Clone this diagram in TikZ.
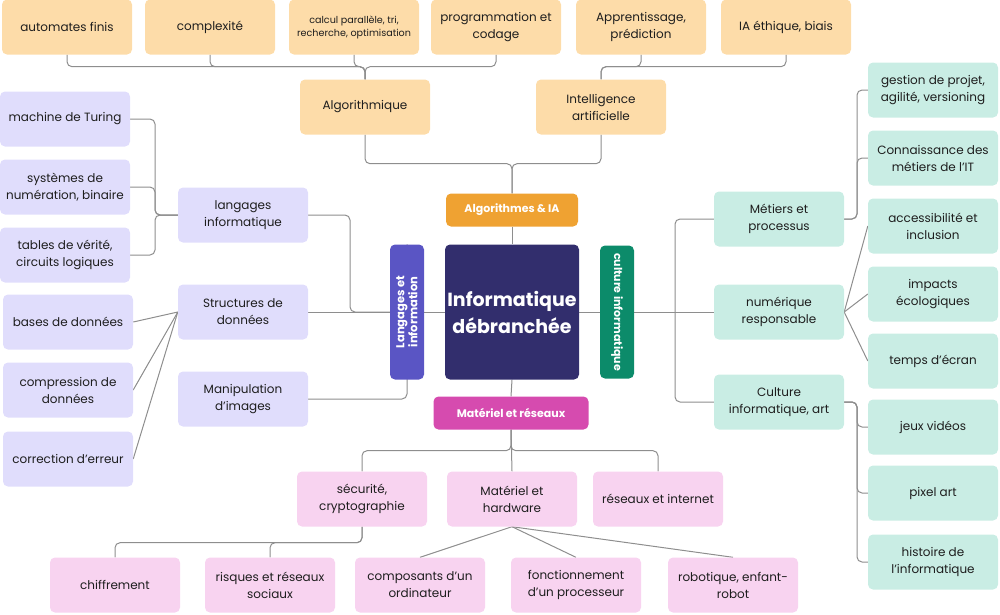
\documentclass[tikz,border=0pt]{standalone}
\usepackage{fontspec}
\setmainfont{Poppins}
\usepackage{tikz}
\usetikzlibrary{calc}
\usetikzlibrary{backgrounds}
\definecolor{orlight}{HTML}{FDDCA9}
\definecolor{purlight}{HTML}{E0DDFC}
\definecolor{grnlight}{HTML}{C9EDE4}
\definecolor{pnklight}{HTML}{F8D3F0}
\definecolor{orstrong}{HTML}{EFA232}
\definecolor{purstrong}{HTML}{5A55C4}
\definecolor{grnstrong}{HTML}{0C8B6A}
\definecolor{pnkstrong}{HTML}{D64BAF}
\definecolor{navy}{HTML}{322E6D}
\definecolor{linegray}{HTML}{8E8E8E}
\definecolor{txt}{HTML}{1E1E1E}
\tikzset{box/.style={rounded corners=5pt, minimum width=130pt, minimum height=55pt, align=center, inner sep=2pt, text=txt, font=\fontsize{12}{17}\selectfont}}
\tikzset{orbox/.style={box, fill=orlight}}
\tikzset{purbox/.style={box, fill=purlight}}
\tikzset{grnbox/.style={box, fill=grnlight}}
\tikzset{pnkbox/.style={box, fill=pnklight}}
\tikzset{mainbox/.style={rounded corners=5pt, align=center, inner sep=2pt, text=white, font=\bfseries\fontsize{11}{13}\selectfont}}

\begin{document}
\begin{tikzpicture}[x=1pt, y=-1pt]
\tikzstyle{link} = [draw=linegray, line width=1pt, rounded corners=5pt]
\useasboundingbox (0, 0) rectangle (1000, 614);

\node[orbox](auto) at (67, 27){automates finis};
\node[orbox](compl) at (210, 27){complexité};
\node[orbox, font=\fontsize{9.6}{13}\selectfont](calc) at (354, 27){calcul parallèle, tri,\\recherche, optimisation};
\node[orbox](prog) at (496, 27){programmation et\\codage};
\node[orbox](appr) at (641, 27){Apprentissage,\\prédiction};
\node[orbox](ethi) at (786, 27){IA éthique, biais};
\node[orbox](algo) at (365, 107){Algorithmique};
\node[orbox](ia) at (601, 107){Intelligence\\artificielle};

\node[mainbox, fill=orstrong, minimum width=132pt, minimum height=33pt](algoia) at (512, 210){Algorithmes \& IA};
\node[mainbox, fill=navy, minimum width=134pt, minimum height=135pt, font=\bfseries\fontsize{19}{27}\selectfont](info) at (512, 312){Informatique\\débranchée};
\node[mainbox, fill=purstrong, rotate=90, minimum width=135pt, minimum height=34pt, font=\bfseries\fontsize{11.5}{13}\selectfont](lang) at (407, 312){Langages et\\information};
\node[mainbox, fill=grnstrong, rotate=-90, minimum width=133pt, minimum height=34pt](cult) at (617, 312){culture informatique};
\node[mainbox, fill=pnkstrong, minimum width=155pt, minimum height=33pt](matres) at (511, 413){Matériel et réseaux};

\node[purbox](langinf) at (243, 215){langages\\informatique};
\node[purbox](struct) at (243, 312){Structures de\\données};
\node[purbox](manip) at (243, 399){Manipulation\\d’images};
\node[purbox](turing) at (65, 119){machine de Turing};
\node[purbox](numer) at (65, 187){systèmes de\\numération, binaire};
\node[purbox](tables) at (65, 255){tables de vérité,\\circuits logiques};
\node[purbox](bases) at (68, 322){bases de données};
\node[purbox](compr) at (68, 390){compression de\\données};
\node[purbox](corr) at (68, 459){correction d’erreur};

\node[grnbox](metiers) at (779, 219){Métiers et\\processus};
\node[grnbox](numresp) at (779, 312){numérique\\responsable};
\node[grnbox](cultart) at (779, 402){Culture\\informatique, art};
\node[grnbox](gest) at (933, 90){gestion de projet,\\agilité, versioning};
\node[grnbox](conn) at (933, 158){Connaissance des\\métiers de l’IT};
\node[grnbox](acces) at (933, 226){accessibilité et\\inclusion};
\node[grnbox](impact) at (933, 294){impacts\\écologiques};
\node[grnbox](ecran) at (933, 361){temps d’écran};
\node[grnbox](jeux) at (933, 427){jeux vidéos};
\node[grnbox](pixel) at (933, 493){pixel art};
\node[grnbox](hist) at (933, 562){histoire de\\l’informatique};

\node[pnkbox](secu) at (362, 499){sécurité,\\cryptographie};
\node[pnkbox](mathw) at (512, 499){Matériel et\\hardware};
\node[pnkbox](reseau) at (658, 499){réseaux et internet};
\node[pnkbox](chif) at (115, 585){chiffrement};
\node[pnkbox](risq) at (270, 585){risques et réseaux\\sociaux};
\node[pnkbox](compo) at (420, 585){composants d’un\\ordinateur};
\node[pnkbox](proc) at (576, 585){fonctionnement\\d’un processeur};
\node[pnkbox](robot) at (733, 585){robotique, enfant-\\robot};

\coordinate(langJ) at (155, 215);
\coordinate(metJ) at (857, 219);
\coordinate(cultJ) at (857, 402);

\begin{scope}[on background layer]
\foreach \n in {auto, compl, calc, prog}
  \draw[link] (\n.south) -- ++(0, 12) -| (algo.north);
\foreach \n in {appr, ethi}
  \draw[link] (\n.south) -- ++(0, 12) -| (ia.north);
\draw[link] (algo.south) -- ++(0, 29) -| (algoia.north);
\draw[link] (ia.south) -- ++(0, 29) -| (algoia.north);
\draw[link] (algoia.south) -- (info.north);
\draw[link] (info.south) -- (matres.north);
\draw[link] (info.west) -- (lang.north);
\draw[link] (info.east) -- (cult.north);

\draw[link] (langinf.east) -| (350, 312) -- (lang.south);
\draw[link] (struct.east) -- (lang.south);
\draw[link] (manip.east) -| (lang.east);
\foreach \n in {turing, numer, tables}
  \draw[link] (langinf.west) -- (langJ) |- (\n.east);
\foreach \n in {bases, compr, corr}
  \draw[link] (struct.west) -- (\n.east);

\draw[link] (cult.south) -- (numresp.west);
\draw[link] (metiers.west) -| (675, 312);
\draw[link] (cultart.west) -| (675, 312);
\foreach \n in {gest, conn}
  \draw[link] (metiers.east) -- (metJ) |- (\n.west);
\foreach \n in {acces, impact, ecran}
  \draw[link] (numresp.east) -- (\n.west);
\foreach \n in {jeux, pixel, hist}
  \draw[link] (cultart.east) -- (cultJ) |- (\n.west);

\draw[link] (matres.south) -- ++(0, 21) -| (secu.north);
\draw[link] (matres.south) -- ++(0, 21) -| (reseau.north);
\draw[link] (matres.south) -- (mathw.north);
\foreach \n in {chif, risq}
  \draw[link] (secu.south) -- ++(0, 16) -| (\n.north);
\foreach \n in {compo, proc, robot}
  \draw[link] (mathw.south) -- (\n.north);
\end{scope}
\end{tikzpicture}
\end{document}
